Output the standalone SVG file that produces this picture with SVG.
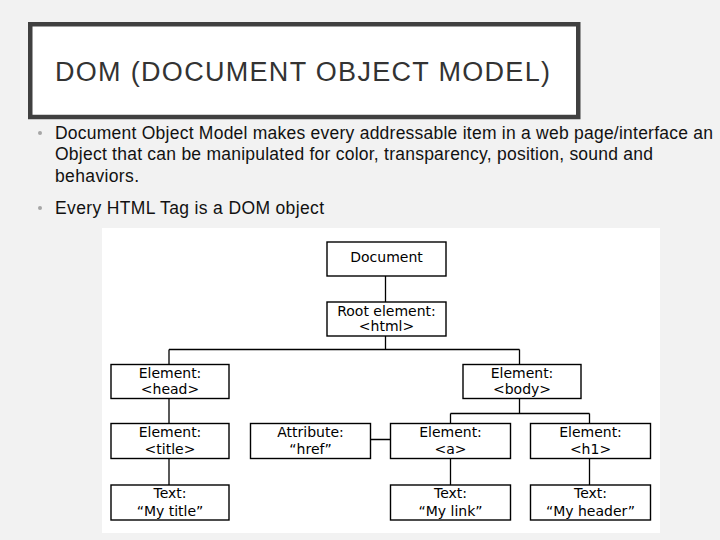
<svg xmlns="http://www.w3.org/2000/svg" width="720" height="540" viewBox="0 0 720 540">
<style>
.bul{font-family:"Liberation Sans",Arial,sans-serif;font-size:17.5px;fill:#111}
.box{fill:#fff;stroke:#000;stroke-width:1.4}
.lbl{font-family:"DejaVu Sans",Verdana,sans-serif;font-size:14px;fill:#000;text-anchor:middle}
.con{stroke:#000;stroke-width:1.3;fill:none}
</style>
<rect x="0" y="0" width="720" height="540" fill="#f2f2f2"/>
<g id="title">
<rect x="30.25" y="24.25" width="548" height="92.75" fill="#fff" stroke="#404040" stroke-width="4.5"/>
<text x="55" y="80.7" font-family="Liberation Sans,Arial,sans-serif" font-size="27" fill="#333" textLength="495" lengthAdjust="spacing">DOM (DOCUMENT OBJECT MODEL)</text>
</g>
<g id="bullets">
<circle cx="40" cy="133" r="2" fill="#a6a6a6"/>
<circle cx="40" cy="208" r="2" fill="#a6a6a6"/>
<text class="bul" x="55" y="138.5" textLength="658" lengthAdjust="spacing">Document Object Model makes every addressable item in a web page/interface an</text>
<text class="bul" x="55" y="160" textLength="598" lengthAdjust="spacing">Object that can be manipulated for color, transparency, position, sound and</text>
<text class="bul" x="55" y="182" textLength="84" lengthAdjust="spacing">behaviors.</text>
<text class="bul" x="55" y="213.5" textLength="269" lengthAdjust="spacing">Every HTML Tag is a DOM object</text>
</g>
<rect x="102" y="228" width="558" height="305" fill="#fff"/>
<g id="connectors">
<path class="con" d="M385.5 276V302M385.5 336V349.5M169 349.5H519.5M169 349.5V364.5M519.5 349.5V364.5M169 398.5V423.5M169 458.5V485M519.5 398.5V413.5M450.5 413.5H589.5M450.5 413.5V423.5M589.5 413.5V423.5M450.5 458.5V485M589.5 458.5V485M370.5 439.5H390.5"/>
</g>
<g id="document"><rect class="box" x="327" y="242" width="119" height="34"/><text class="lbl" x="386.5" y="262">Document</text></g>
<g id="root"><rect class="box" x="327" y="302" width="119" height="34"/><text class="lbl" x="386.5" y="315.5">Root element:</text><text class="lbl" x="386.5" y="331">&lt;html&gt;</text></g>
<g id="head"><rect class="box" x="111" y="364.5" width="118" height="34"/><text class="lbl" x="170" y="377.7">Element:</text><text class="lbl" x="170" y="394">&lt;head&gt;</text></g>
<g id="body"><rect class="box" x="463" y="364.5" width="118" height="34"/><text class="lbl" x="522" y="377.7">Element:</text><text class="lbl" x="522" y="394">&lt;body&gt;</text></g>
<g id="title-el"><rect class="box" x="111" y="423.5" width="118" height="35"/><text class="lbl" x="170" y="437">Element:</text><text class="lbl" x="170" y="453.5">&lt;title&gt;</text></g>
<g id="attr"><rect class="box" x="250.5" y="423.5" width="120" height="35"/><text class="lbl" x="310.5" y="437">Attribute:</text><text class="lbl" x="310.5" y="453.5">“href”</text></g>
<g id="a-el"><rect class="box" x="390.5" y="423.5" width="120" height="35"/><text class="lbl" x="450.5" y="437">Element:</text><text class="lbl" x="450.5" y="453.5">&lt;a&gt;</text></g>
<g id="h1-el"><rect class="box" x="530.5" y="423.5" width="120" height="35"/><text class="lbl" x="590.5" y="437">Element:</text><text class="lbl" x="590.5" y="453.5">&lt;h1&gt;</text></g>
<g id="text-title"><rect class="box" x="111" y="485" width="118" height="35"/><text class="lbl" x="170" y="498">Text:</text><text class="lbl" x="170" y="515.5">“My title”</text></g>
<g id="text-link"><rect class="box" x="390.5" y="485" width="120" height="35"/><text class="lbl" x="450.5" y="498">Text:</text><text class="lbl" x="450.5" y="515.5">“My link”</text></g>
<g id="text-header"><rect class="box" x="530.5" y="485" width="120" height="35"/><text class="lbl" x="590.5" y="498">Text:</text><text class="lbl" x="590.5" y="515.5">“My header”</text></g>
</svg>
